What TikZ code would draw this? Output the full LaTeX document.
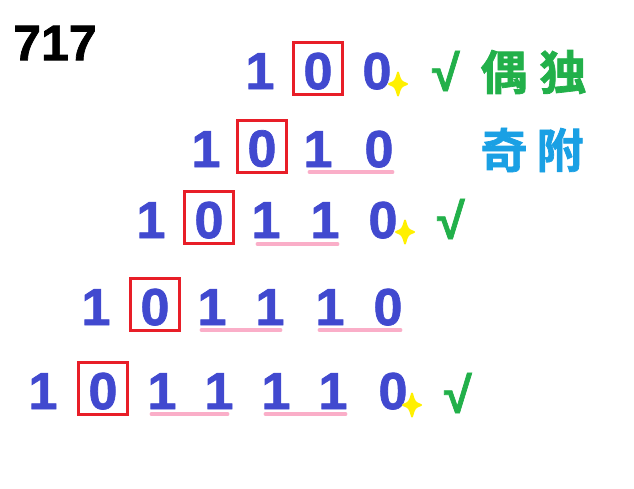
\documentclass[tikz,border=0pt]{standalone}
\usepackage{fontspec}
\setmainfont{Liberation Sans}
\newfontfamily\digfont[FakeBold=1.4]{Liberation Sans Bold}
\newfontfamily\cjk[FakeBold=1.5]{Noto Sans CJK SC Bold}
\usepackage{tikz}
\usetikzlibrary{positioning}

\definecolor{digitblue}{RGB}{65,73,207}
\definecolor{boxred}{RGB}{232,30,40}
\definecolor{linepink}{RGB}{250,174,200}
\definecolor{tickgreen}{RGB}{34,176,74}
\definecolor{skyblue}{RGB}{26,160,228}
\definecolor{starye}{RGB}{255,240,0}

\tikzset{
  dig/.style={inner sep=0pt, text=digitblue, font=\fontsize{52}{52}\digfont,
    text height=36pt, text depth=0pt},
  boxed/.style={dig, draw=boxred, line width=3pt, minimum width=49pt, minimum height=52pt,
    text height=41pt, text depth=0pt},
  uline/.style={draw=linepink, line width=3.5pt, line cap=round},
  tick/.style={inner sep=0pt, text=tickgreen, font=\fontsize{50}{50}\digfont},
  hanzi/.style={inner sep=0pt, font=\fontsize{47}{47}\cjk},
  sparkle/.pic={
    \filldraw[starye, line width=2pt, line join=round]
      (0,-11.5) .. controls (2.5,-2.5) .. (9,0) .. controls (2.5,2.5) .. (0,11.5)
      .. controls (-2.5,2.5) .. (-9,0) .. controls (-2.5,-2.5) .. (0,-11.5) -- cycle;
  }
}

\begin{document}
\begin{tikzpicture}[x=1pt,y=-1pt]
		\useasboundingbox (0,0) rectangle (634,488);
		\node[inner sep=0pt, font=\fontsize{50}{50}\digfont] (num) at (55,43) {717};
		% row 1
		\node[dig] (a1) at (260,71) {1};
		\node[boxed] (a2) at (318,68.5) {0};
		\node[dig] (a3) at (377,71) {0};
		\pic at (398,84) {sparkle};
		\node[tick] (ta) at (446,71) {√};
		\node[hanzi, text=tickgreen] (ou) at (504,72) {偶};
		\node[hanzi, text=tickgreen] (du) at (563,72) {独};
		% row 2
		\node[dig] (b1) at (206,149) {1};
		\node[boxed] (b2) at (262,146) {0};
		\node[dig] (b3) at (318,149) {1};
		\node[dig] (b4) at (379,149) {0};
		\draw[uline] ([xshift=6pt,yshift=-5pt]b3.south west) -- ([xshift=-1pt,yshift=-5pt]b4.south east);
		\node[hanzi, text=skyblue] (qi) at (504,150) {奇};
		\node[hanzi, text=skyblue] (fu) at (560,150) {附};
		% row 3
		\node[dig] (c1) at (151,220) {1};
		\node[boxed] (c2) at (209,217.5) {0};
		\node[dig] (c3) at (266,220) {1};
		\node[dig] (c4) at (325,220) {1};
		\node[dig] (c5) at (383,220) {0};
		\pic at (405,232) {sparkle};
		\node[tick] (tc) at (451,219) {√};
		\draw[uline] ([xshift=6pt,yshift=-6pt]c3.south west) -- ([xshift=-2pt,yshift=-6pt]c4.south east);
		% row 4
		\node[dig] (d1) at (96,307) {1};
		\node[boxed] (d2) at (155,304.5) {0};
		\node[dig] (d3) at (212,307) {1};
		\node[dig] (d4) at (270,307) {1};
		\node[dig] (d5) at (330,307) {1};
		\node[dig] (d6) at (388,307) {0};
		\draw[uline] ([xshift=4pt,yshift=-5pt]d3.south west) -- ([xshift=-4pt,yshift=-5pt]d4.south east);
		\draw[uline] ([xshift=4pt,yshift=-5pt]d5.south west) -- ([xshift=-2pt,yshift=-5pt]d6.south east);
		% row 5
		\node[dig] (e1) at (43,391) {1};
		\node[boxed] (e2) at (103,388.5) {0};
		\node[dig] (e3) at (162,391) {1};
		\node[dig] (e4) at (219,391) {1};
		\node[dig] (e5) at (276,391) {1};
		\node[dig] (e6) at (333,391) {1};
		\node[dig] (e7) at (393,391) {0};
		\pic at (412,405) {sparkle};
		\node[tick] (te) at (458,393) {√};
		\draw[uline] ([xshift=4pt,yshift=-5pt]e3.south west) -- ([xshift=-6pt,yshift=-5pt]e4.south east);
		\draw[uline] ([xshift=4pt,yshift=-5pt]e5.south west) -- ([xshift=-2pt,yshift=-5pt]e6.south east);
\end{tikzpicture}
\end{document}
